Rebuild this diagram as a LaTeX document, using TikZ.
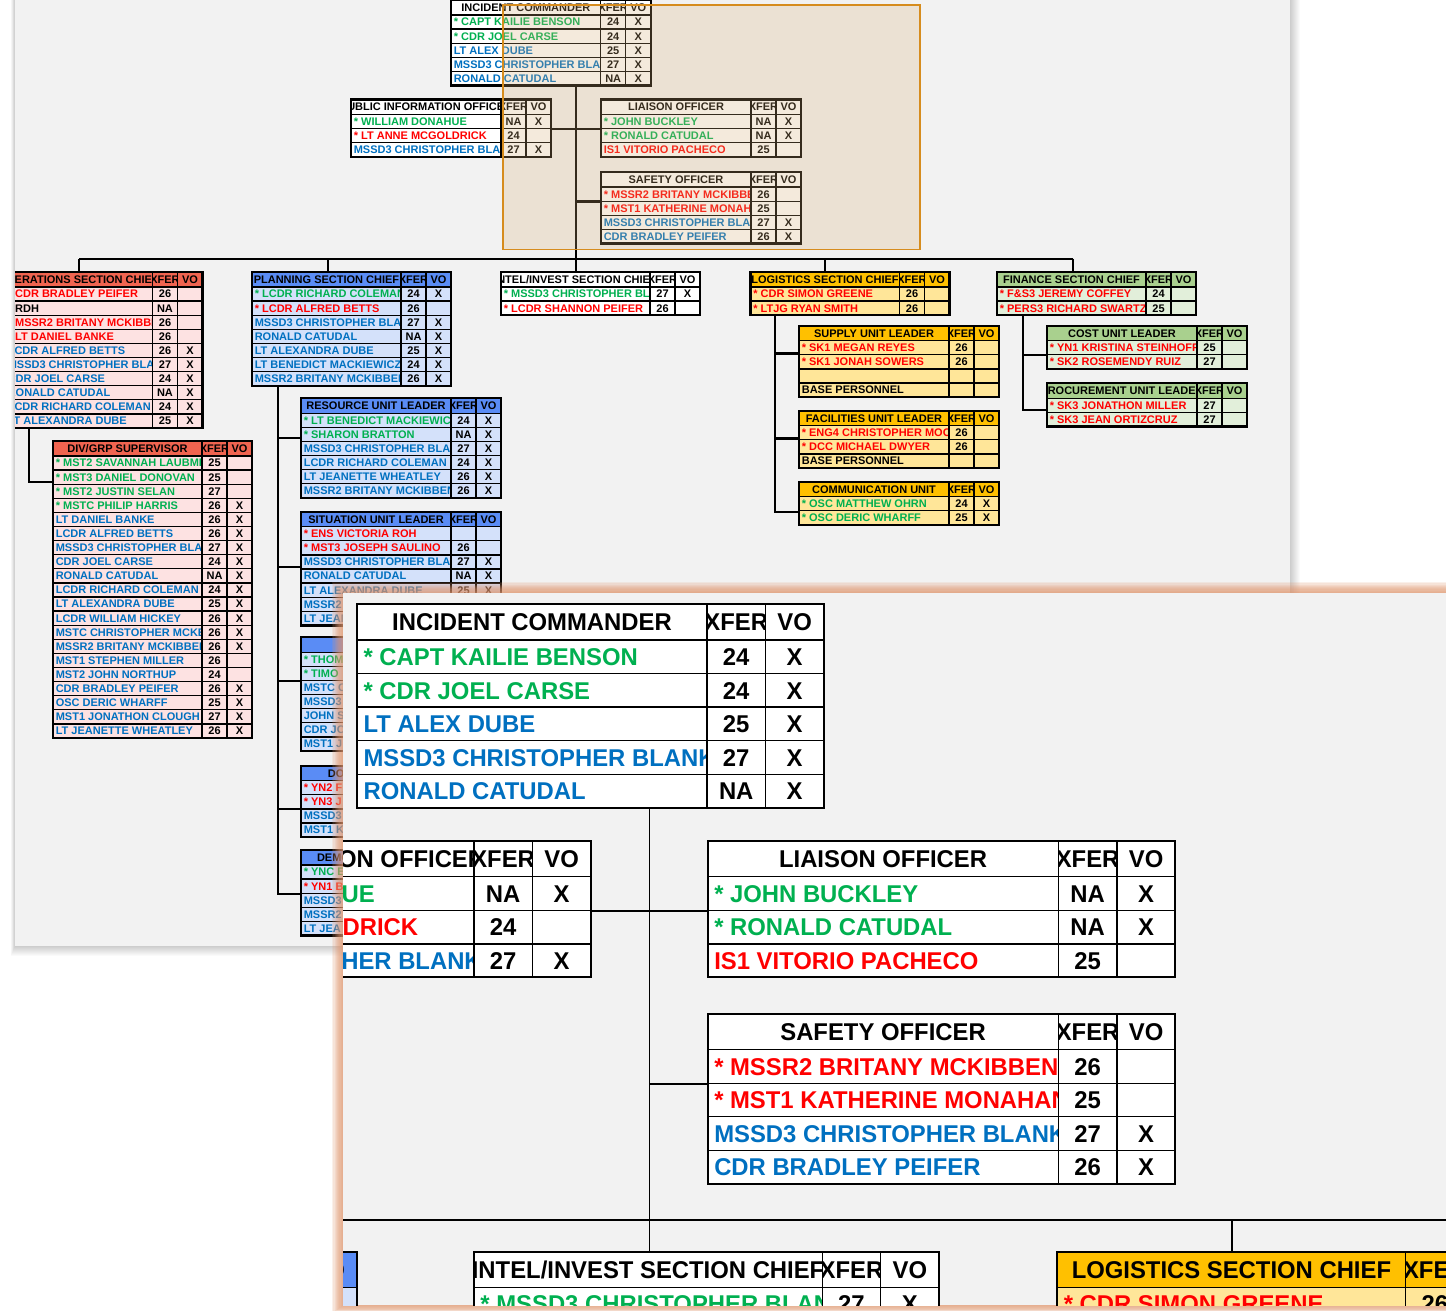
\documentclass[tikz,border=0pt]{standalone}
\usepackage{fontspec}
\setmainfont{Liberation Sans}
\definecolor{cg}{RGB}{0,176,80}
\definecolor{cr}{RGB}{255,0,0}
\definecolor{cb}{RGB}{0,112,192}
\definecolor{ck}{RGB}{0,0,0}
\definecolor{wH}{RGB}{255,255,255}
\definecolor{wR}{RGB}{255,255,255}
\definecolor{oH}{RGB}{240,100,80}
\definecolor{oR}{RGB}{253,226,226}
\definecolor{pH}{RGB}{90,140,245}
\definecolor{pR}{RGB}{212,225,250}
\definecolor{lH}{RGB}{255,192,0}
\definecolor{lR}{RGB}{255,230,153}
\definecolor{fH}{RGB}{169,208,142}
\definecolor{fR}{RGB}{226,239,218}
\definecolor{sheet}{RGB}{242,242,242}
\definecolor{hl}{RGB}{215,175,119}
\definecolor{hlb}{RGB}{214,140,30}
\definecolor{glow}{RGB}{225,150,110}

\newcommand\cf{11}
\newcommand\rowh{14.1}
\newcommand\hdrh{15}

\tikzset{
  tblouter/.style={line width=2.2pt},
  tblinner/.style={line width=1.3pt},
  conn/.style={line width=2.4pt},
  ctext/.style={inner sep=0pt, font=\fontsize{\cf}{\cf}\selectfont\bfseries},
}

% #1 id, #2 x, #3 y, #4 name width, #5 theme, #6 title, #7 rows
\newcommand\orgtbl[7]{%
  \pgfmathsetmacro\tX{#2}\pgfmathsetmacro\tY{#3}\pgfmathsetmacro\tW{#4}%
  \pgfmathsetmacro\tA{\tX+\tW}\pgfmathsetmacro\tB{\tA+25}\pgfmathsetmacro\tC{\tB+25}%
  \pgfmathsetmacro\tH{\tY+\hdrh}\pgfmathsetmacro\tHM{\tY+\hdrh/2+0.358*\cf}%
  \fill[#5H] (\tX,\tY) rectangle (\tC,\tH);
  \begin{scope}\clip (\tX,\tY) rectangle (\tA,\tH);
    \node[ctext, anchor=base] (#1-t) at ({(\tX+\tA)/2},\tHM) {#6};
  \end{scope}
  \begin{scope}\clip (\tA,\tY) rectangle (\tB,\tH);
    \node[ctext, anchor=base] (#1-tx) at ({(\tA+\tB)/2},\tHM) {XFER};
  \end{scope}
  \node[ctext, anchor=base] (#1-tv) at ({(\tB+\tC)/2},\tHM) {VO};
  \foreach \tc/\tn/\tx/\tv [count=\i] in {#7} {
    \pgfmathsetmacro\rT{\tH+(\i-1)*\rowh}
    \pgfmathsetmacro\rM{\rT+\rowh/2+0.358*\cf}
    \pgfmathsetmacro\rE{\rT+\rowh}
    \fill[#5R] (\tX,\rT) rectangle (\tC,\rE);
    \begin{scope}\clip (\tX,\rT) rectangle (\tA,\rE);
      \node[ctext, anchor=base west, text=\tc] (#1-\i) at (\tX+2.6,\rM) {\tn};
    \end{scope}
    \node[ctext, anchor=base] (#1-\i-x) at ({(\tA+\tB)/2},\rM) {\tx};
    \node[ctext, anchor=base] (#1-\i-v) at ({(\tB+\tC)/2},\rM) {\tv};
    \draw[tblinner] (\tX,\rT) -- (\tC,\rT);
    \xdef\tN{\i}
  }
  \pgfmathsetmacro\tE{\tH+\tN*\rowh}%
  \draw[tblinner] (\tA,\tY) -- (\tA,\tE) (\tB,\tY) -- (\tB,\tE);
  \draw[tblouter] (\tX,\tY) rectangle (\tC,\tE);
}

\newcommand\drawchart{%
  % connector points
  \coordinate (icS) at (576,85.3);
  \coordinate (inT) at (576,272);
  \coordinate (hL) at (79,258.7);
  \coordinate (hR) at (1073,258.7);
  \coordinate (opT) at (79,272);
  \coordinate (plT) at (328,272);
  \coordinate (plX) at (328,258.7);
  \coordinate (loT) at (825,272);
  \coordinate (loX) at (825,258.7);
  \coordinate (fiT) at (1073,272);
  \coordinate (piR) at (551,128.9);
  \coordinate (liL) at (601,128.9);
  \coordinate (saL) at (601,201.6);
  \coordinate (saX) at (576,201.6);
  \coordinate (opB) at (29,428);
  \coordinate (dvL) at (53,482);
  \coordinate (plB) at (278,385.7);
  \coordinate (reL) at (301,438);
  \coordinate (siL) at (301,567);
  \coordinate (uaL) at (301,681);
  \coordinate (ubL) at (301,809);
  \coordinate (ucL) at (301,894);
  \coordinate (loB) at (775,315.2);
  \coordinate (suL) at (799,353.3);
  \coordinate (faL) at (799,438.3);
  \coordinate (coL) at (799,511.7);
  \coordinate (fiB) at (1023,315.2);
  \coordinate (csL) at (1047,355);
  \coordinate (prL) at (1047,410);
  \draw[conn] (icS) -- (inT);
  \draw[conn] (hL) -- (hR);
  \draw[conn] (hL) -- (opT);
  \draw[conn] (plX) -- (plT);
  \draw[conn] (loX) -- (loT);
  \draw[conn] (hR) -- (fiT);
  \draw[conn] (piR) -- (liL);
  \draw[conn] (saX) -- (saL);
  \draw[conn] (opB) |- (dvL);
  \draw[conn] (plB) |- (ucL);
  \draw[conn] (plB) |- (reL);
  \draw[conn] (plB) |- (siL);
  \draw[conn] (plB) |- (uaL);
  \draw[conn] (plB) |- (ubL);
  \draw[conn] (loB) |- (coL);
  \draw[conn] (loB) |- (suL);
  \draw[conn] (loB) |- (faL);
  \draw[conn] (fiB) |- (prL);
  \draw[conn] (fiB) |- (csL);
  % tables
  \orgtbl{ic}{451}{0}{149.7}{w}{INCIDENT COMMANDER}{cg/* CAPT KAILIE BENSON/24/X, cg/* CDR JOEL CARSE/24/X, cb/LT ALEX DUBE/25/X, cb/MSSD3 CHRISTOPHER BLANK/27/X, cb/RONALD CATUDAL/NA/X}
  \orgtbl{pio}{351}{99.5}{150}{w}{PUBLIC INFORMATION OFFICER}{cg/* WILLIAM DONAHUE/NA/X, cr/* LT ANNE MCGOLDRICK/24/, cb/MSSD3 CHRISTOPHER BLANK/27/X}
  \orgtbl{lia}{601}{99.5}{150}{w}{LIAISON OFFICER}{cg/* JOHN BUCKLEY/NA/X, cg/* RONALD CATUDAL/NA/X, cr/IS1 VITORIO PACHECO/25/}
  \orgtbl{saf}{601}{172.1}{150}{w}{SAFETY OFFICER}{cr/* MSSR2 BRITANY MCKIBBEN/26/, cr/* MST1 KATHERINE MONAHAN/25/, cb/MSSD3 CHRISTOPHER BLANK/27/X, cb/CDR BRADLEY PEIFER/26/X}
  \orgtbl{ops}{5}{272}{147.5}{o}{OPERATIONS SECTION CHIEF}{cr/* CDR BRADLEY PEIFER/26/, ck/* RDH/NA/, cr/* MSSR2 BRITANY MCKIBBEN/26/, cr/* LT DANIEL BANKE/26/, cb/LCDR ALFRED BETTS/26/X, cb/MSSD3 CHRISTOPHER BLANK/27/X, cb/CDR JOEL CARSE/24/X, cb/RONALD CATUDAL/NA/X, cb/LCDR RICHARD COLEMAN/24/X, cb/LT ALEXANDRA DUBE/25/X}
  \orgtbl{pla}{252}{272}{149}{p}{PLANNING SECTION CHIEF}{cg/* LCDR RICHARD COLEMAN/24/X, cr/* LCDR ALFRED BETTS/26/, cb/MSSD3 CHRISTOPHER BLANK/27/X, cb/RONALD CATUDAL/NA/X, cb/LT ALEXANDRA DUBE/25/X, cb/LT BENEDICT MACKIEWICZ/24/X, cb/MSSR2 BRITANY MCKIBBEN/26/X}
  \orgtbl{int}{501}{272}{149}{w}{INTEL/INVEST SECTION CHIEF}{cg/* MSSD3 CHRISTOPHER BLANK/27/X, cr/* LCDR SHANNON PEIFER/26/}
  \orgtbl{log}{750.5}{272}{149}{l}{LOGISTICS SECTION CHIEF}{cr/* CDR SIMON GREENE/26/, cr/* LTJG RYAN SMITH/26/}
  \orgtbl{fin}{997}{272}{149}{f}{FINANCE SECTION CHIEF}{cr/* F\&S3 JEREMY COFFEY/24/, cr/* PERS3 RICHARD SWARTZ/25/}
  \orgtbl{div}{53}{441}{149}{o}{DIV/GRP SUPERVISOR}{cg/* MST2 SAVANNAH LAUBMEIER/25/, cg/* MST3 DANIEL DONOVAN/25/, cg/* MST2 JUSTIN SELAN/27/, cg/* MSTC PHILIP HARRIS/26/X, cb/LT DANIEL BANKE/26/X, cb/LCDR ALFRED BETTS/26/X, cb/MSSD3 CHRISTOPHER BLANK/27/X, cb/CDR JOEL CARSE/24/X, cb/RONALD CATUDAL/NA/X, cb/LCDR RICHARD COLEMAN/24/X, cb/LT ALEXANDRA DUBE/25/X, cb/LCDR WILLIAM HICKEY/26/X, cb/MSTC CHRISTOPHER MCKEE/26/X, cb/MSSR2 BRITANY MCKIBBEN/26/X, cb/MST1 STEPHEN MILLER/26/, cb/MST2 JOHN NORTHUP/24/, cb/CDR BRADLEY PEIFER/26/X, cb/OSC DERIC WHARFF/25/X, cb/MST1 JONATHON CLOUGH/27/X, cb/LT JEANETTE WHEATLEY/26/X}
  \orgtbl{res}{301}{398.3}{150}{p}{RESOURCE UNIT LEADER}{cg/* LT BENEDICT MACKIEWICZ/24/X, cg/* SHARON BRATTON/NA/X, cb/MSSD3 CHRISTOPHER BLANK/27/X, cb/LCDR RICHARD COLEMAN/24/X, cb/LT JEANETTE WHEATLEY/26/X, cb/MSSR2 BRITANY MCKIBBEN/26/X}
  \orgtbl{sit}{301}{511.7}{150}{p}{SITUATION UNIT LEADER}{cr/* ENS VICTORIA ROH//, cr/* MST3 JOSEPH SAULINO/26/, cb/MSSD3 CHRISTOPHER BLANK/27/X, cb/RONALD CATUDAL/NA/X, cb/LT ALEXANDRA DUBE/25/X, cb/MSSR2 BRITANY MCKIBBEN/26/X, cb/LT JEANETTE WHEATLEY/26/X}
  \orgtbl{ua}{301}{637.3}{150}{p}{}{cg/* THOM//, cg/* TIMO//, cb/MSTC C//, cb/MSSD3//, cb/JOHN S//, cb/CDR JO//, cb/MST1 J//}
  \orgtbl{ub}{301}{765.7}{150}{p}{DOCUMENTATION}{cr/* YN2 F//, cr/* YN3 J//, cb/MSSD3//, cb/MST1 K//}
  \orgtbl{uc}{301}{850}{150}{p}{DEMOB UNIT LEADER}{cg/* YNC E//, cr/* YN1 B//, cb/MSSD3//, cb/MSSR2//, cb/LT JEA//}
  \orgtbl{sup}{799}{325.7}{150}{l}{SUPPLY UNIT LEADER}{cr/* SK1 MEGAN REYES/26/, cr/* SK1 JONAH SOWERS/26/, ck///, ck/BASE PERSONNEL//}
  \orgtbl{fac}{799}{410.7}{150}{l}{FACILITIES UNIT LEADER}{cr/* ENG4 CHRISTOPHER MOORE/26/, cr/* DCC MICHAEL DWYER/26/, ck/BASE PERSONNEL//}
  \orgtbl{com}{799}{481.7}{150}{l}{COMMUNICATION UNIT}{cg/* OSC MATTHEW OHRN/24/X, cg/* OSC DERIC WHARFF/25/X}
  \orgtbl{cst}{1047}{325.7}{150}{f}{COST UNIT LEADER}{cr/* YN1 KRISTINA STEINHOFF/25/, cr/* SK2 ROSEMENDY RUIZ/27/}
  \orgtbl{pro}{1047}{383.3}{150}{f}{PROCUREMENT UNIT LEADER}{cr/* SK3 JONATHON MILLER/27/, cr/* SK3 JEAN ORTIZCRUZ/27/}
}

\begin{document}
\begin{tikzpicture}[x=1pt,y=-1pt]
\useasboundingbox (0,0) rectangle (1446,1311);
\fill[white] (0,0) rectangle (1446,1311);
% sheet shadow
\foreach \k in {1,...,10} {
  \fill[black, opacity=0.02] (15-0.4*\k,-20) rectangle (1290+\k,946+\k);
}
\fill[sheet] (15,-20) rectangle (1290,946);
% small chart
\begin{scope}
  \clip (15,-20) rectangle (1290,946);
  \drawchart
  \fill[hl, opacity=0.25] (503,5) rectangle (920,249.5);
  \draw[hlb, line width=1.8pt] (503,5) rectangle (920,249.5);
\end{scope}
% zoom panel
\foreach \k in {1,...,9} {
  \fill[glow, opacity=0.14] (343-\k*1.2,593-\k*1.2) rectangle (1460,1305+\k*0.9);
}
\fill[sheet] (343,593) rectangle (1460,1305);
\begin{scope}
  \clip (343,593) rectangle (1460,1305);
  \begin{scope}[shift={(-697.44,604.3)}, xscale=2.338, yscale=2.38, transform shape]
    \renewcommand\cf{10.2}
    \tikzset{tblouter/.style={line width=2pt}, tblinner/.style={line width=1.3pt}, conn/.style={line width=1.8pt}}
    \drawchart
  \end{scope}
\end{scope}
\end{tikzpicture}
\end{document}
